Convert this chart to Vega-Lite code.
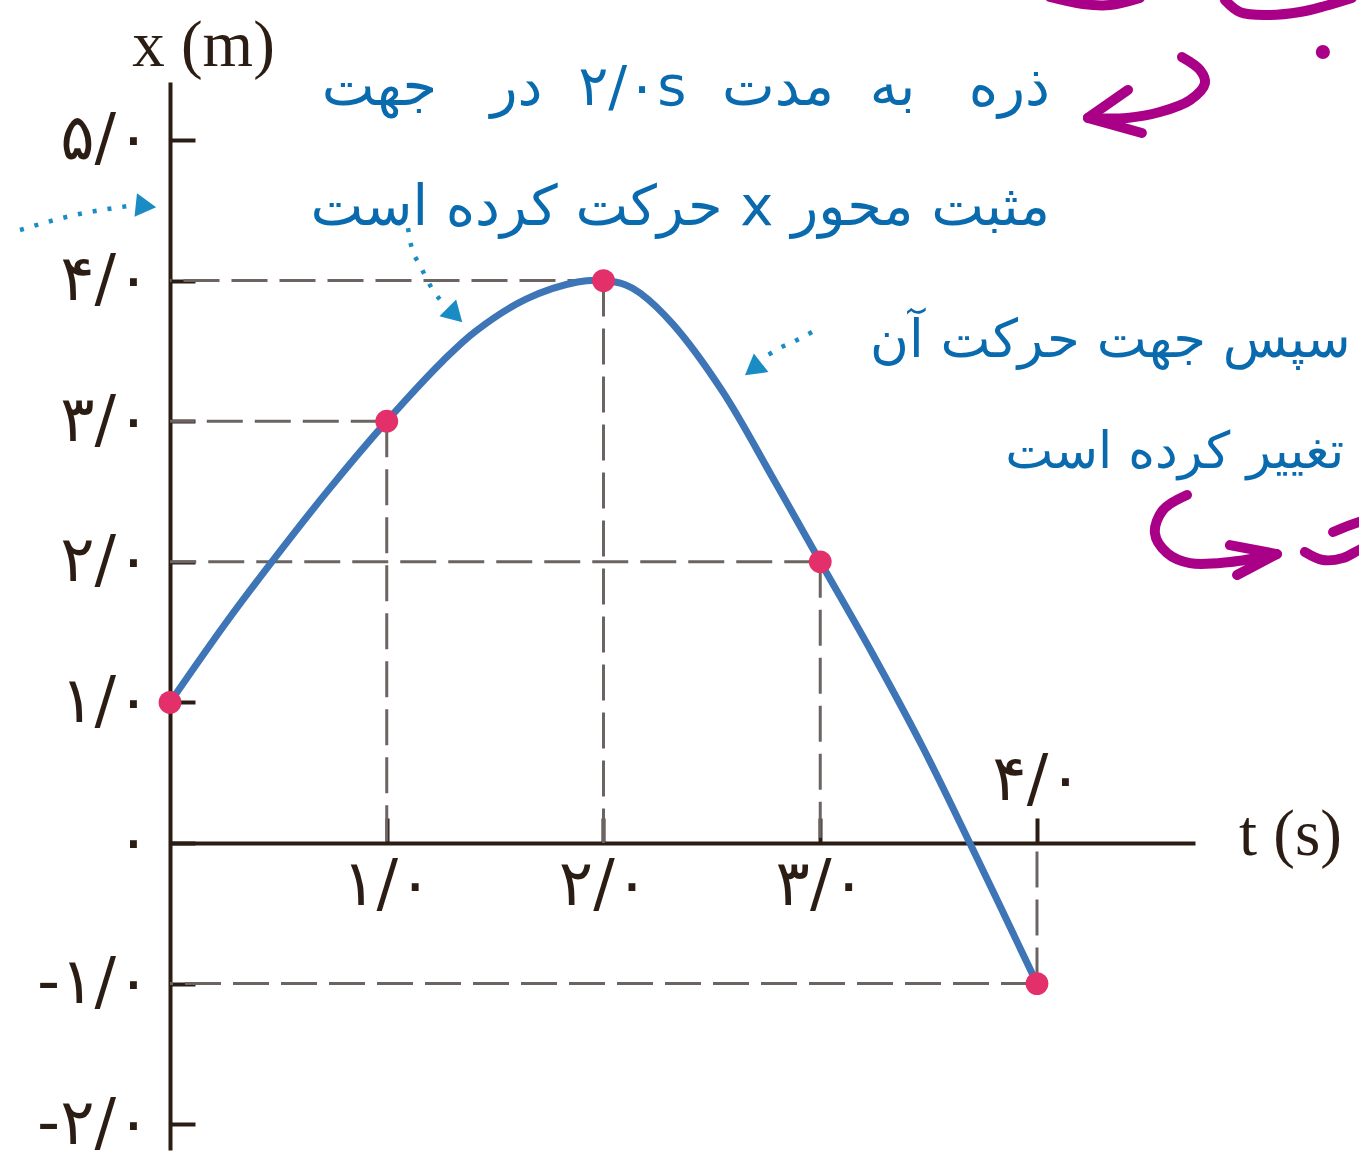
{
  "$schema": "https://vega.github.io/schema/vega-lite/v6.json",
  "autosize": "none",
  "width": 1025,
  "height": 1068,
  "padding": {"left": 170, "top": 82, "right": 164, "bottom": 11},
  "background": "white",
  "config": {"view": {"stroke": null}, "axis": {"grid": false, "zindex": 1}},
  "datasets": {
    "points": [
      {"t": 0, "x": 1}, {"t": 1, "x": 3}, {"t": 2, "x": 4}, {"t": 3, "x": 2}, {"t": 4, "x": -1}
    ],
    "curve": [
      {"t": 0, "x": 1}, {"t": 0.26, "x": 1.57}, {"t": 0.46, "x": 1.98}, {"t": 0.72, "x": 2.49},
      {"t": 1, "x": 3}, {"t": 1.26, "x": 3.43}, {"t": 1.41, "x": 3.64}, {"t": 1.645, "x": 3.87},
      {"t": 1.88, "x": 3.99}, {"t": 2, "x": 4}, {"t": 2.1, "x": 3.97}, {"t": 2.17, "x": 3.91}, {"t": 2.32, "x": 3.69},
      {"t": 2.55, "x": 3.21}, {"t": 2.78, "x": 2.6}, {"t": 3, "x": 2}, {"t": 3.24, "x": 1.35}, {"t": 3.47, "x": 0.69},
      {"t": 3.69, "x": 0}, {"t": 4, "x": -1}
    ],
    "notesR": [
      {"t": 4.06, "x": 5.249, "label": "\u202bذره\u00a0\u00a0 به\u00a0 مدت\u00a0 ۲/۰s\u00a0 در\u00a0\u00a0 جهت\u202c"},
      {"t": 4.06, "x": 4.395, "label": "\u202bمثبت محور x حرکت کرده است\u202c"}
    ],
    "notesL1": [
      {"t": 3.23, "x": 3.457, "label": "\u202bسپس جهت حرکت آن\u202c"}
    ],
    "notesL2": [
      {"t": 3.853, "x": 2.667, "label": "\u202bتغییر کرده است\u202c"}
    ],
    "dotted": [
      {"id": "a", "i": 0, "t": -0.692, "x": 4.36}, {"id": "a", "i": 1, "t": -0.438, "x": 4.467}, {"id": "a", "i": 2, "t": -0.17, "x": 4.535},
      {"id": "b", "i": 0, "t": 1.098, "x": 4.374}, {"id": "b", "i": 1, "t": 1.112, "x": 4.253}, {"id": "b", "i": 2, "t": 1.153, "x": 4.111},
      {"id": "b", "i": 3, "t": 1.213, "x": 3.933}, {"id": "b", "i": 4, "t": 1.269, "x": 3.826},
      {"id": "c", "i": 0, "t": 2.962, "x": 3.634}, {"id": "c", "i": 1, "t": 2.883, "x": 3.57}, {"id": "c", "i": 2, "t": 2.814, "x": 3.521},
      {"id": "c", "i": 3, "t": 2.745, "x": 3.457}
    ],
    "heads": [
      {"id": "a", "t": -0.111, "x": 4.53}, {"id": "b", "t": 1.315, "x": 3.755}, {"id": "c", "t": 2.69, "x": 3.371}
    ],
    "pen": [
      {"id": "m1", "i": 0, "t": 4.669, "x": 5.59}, {"id": "m1", "i": 1, "t": 4.752, "x": 5.498}, {"id": "m1", "i": 2, "t": 4.775, "x": 5.405},
      {"id": "m1", "i": 3, "t": 4.706, "x": 5.284}, {"id": "m1", "i": 4, "t": 4.567, "x": 5.199}, {"id": "m1", "i": 5, "t": 4.415, "x": 5.157},
      {"id": "m1", "i": 6, "t": 4.235, "x": 5.157},
      {"id": "m2", "i": 0, "t": 4.06, "x": 6.017}, {"id": "m2", "i": 1, "t": 4.212, "x": 5.967}, {"id": "m2", "i": 2, "t": 4.337, "x": 5.96},
      {"id": "m2", "i": 3, "t": 4.475, "x": 6.01},
      {"id": "m3", "i": 0, "t": 4.867, "x": 5.996}, {"id": "m3", "i": 1, "t": 4.937, "x": 5.91}, {"id": "m3", "i": 2, "t": 5.061, "x": 5.889},
      {"id": "m3", "i": 3, "t": 5.213, "x": 5.91}, {"id": "m3", "i": 4, "t": 5.329, "x": 5.953}, {"id": "m3", "i": 5, "t": 5.453, "x": 6.01},
      {"id": "m4", "i": 0, "t": 4.692, "x": 2.475}, {"id": "m4", "i": 1, "t": 4.581, "x": 2.368}, {"id": "m4", "i": 2, "t": 4.544, "x": 2.205},
      {"id": "m4", "i": 3, "t": 4.6, "x": 2.063}, {"id": "m4", "i": 4, "t": 4.706, "x": 1.991}, {"id": "m4", "i": 5, "t": 4.89, "x": 1.999},
      {"id": "m4", "i": 6, "t": 5.107, "x": 2.055},
      {"id": "m6", "i": 0, "t": 5.236, "x": 2.07}, {"id": "m6", "i": 1, "t": 5.319, "x": 2.013}, {"id": "m6", "i": 2, "t": 5.412, "x": 2.027},
      {"id": "m6", "i": 3, "t": 5.486, "x": 2.084}, {"id": "m6", "i": 4, "t": 5.55, "x": 2.12},
      {"id": "m7", "i": 0, "t": 5.366, "x": 2.212}, {"id": "m7", "i": 1, "t": 5.486, "x": 2.283}, {"id": "m7", "i": 2, "t": 5.55, "x": 2.3}
    ],
    "penBarbs": [
      {"id": "b1", "i": 0, "t": 4.42, "x": 5.356}, {"id": "b1", "i": 1, "t": 4.235, "x": 5.157}, {"id": "b1", "i": 2, "t": 4.484, "x": 5.05},
      {"id": "b2", "i": 0, "t": 4.89, "x": 2.119}, {"id": "b2", "i": 1, "t": 5.107, "x": 2.055}, {"id": "b2", "i": 2, "t": 4.923, "x": 1.906}
    ],
    "penDot": [{"t": 5.319, "x": 5.626}]
  },
  "encoding": {
    "x": {
      "field": "t", "type": "quantitative",
      "scale": {"domain": [0, 4.729], "nice": false, "zero": false},
      "axis": {
        "title": "t (s)", "titleFont": "Liberation Serif", "titleFontSize": 65, "titleFontWeight": "normal",
        "titleColor": "#2b1d14", "titleAlign": "center", "titleBaseline": "middle", "titleAngle": 0,
        "titleX": 1120, "titleY": -8,
        "offset": {"expr": "scale('y', 0) - height"},
        "values": [1, 2, 3, 4],
        "labelExpr": "['۰','۱','۲','۳','۴','۵'][datum.value] + '/۰'",
        "labelFont": "DejaVu Sans", "labelFontSize": 64, "labelColor": "#2b1d14",
        "labelBaseline": {"condition": {"test": "datum.value == 4", "value": "alphabetic"}, "value": "top"},
        "labelPadding": {"condition": {"test": "datum.value == 4", "value": -18}, "value": 36},
        "labelOverlap": false, "labelFlush": false,
        "tickSize": -25, "tickWidth": 4, "tickColor": "#2b1d14",
        "domainColor": "#2b1d14", "domainWidth": 4
      }
    },
    "y": {
      "field": "x", "type": "quantitative",
      "scale": {"domain": [-2.1835, 5.4125], "nice": false, "zero": false},
      "axis": {
        "title": "x (m)", "titleFont": "Liberation Serif", "titleFontSize": 65, "titleFontWeight": "normal",
        "titleColor": "#2b1d14", "titleAlign": "center", "titleBaseline": "middle", "titleAngle": 0,
        "titleX": 33, "titleY": -37,
        "values": [-2, -1, 0, 1, 2, 3, 4, 5],
        "labelExpr": "datum.value == 0 ? '۰' : (datum.value < 0 ? '-' : '') + ['۰','۱','۲','۳','۴','۵'][abs(datum.value)] + '/۰'",
        "labelFont": "DejaVu Sans", "labelFontSize": 64, "labelColor": "#2b1d14",
        "labelPadding": 45, "labelOverlap": false, "labelFlush": false,
        "tickSize": -25, "tickWidth": 4, "tickColor": "#2b1d14",
        "domainColor": "#2b1d14", "domainWidth": 4
      }
    }
  },
  "layer": [
    {
      "data": {"name": "points"},
      "transform": [{"filter": "datum.t > 0"}],
      "mark": {"type": "rule", "color": "#6b6462", "strokeWidth": 3, "strokeDash": [36, 12]},
      "encoding": {"x2": {"datum": 0}}
    },
    {
      "data": {"name": "points"},
      "transform": [{"filter": "datum.t > 0"}],
      "mark": {"type": "rule", "color": "#6b6462", "strokeWidth": 3, "strokeDash": [36, 12]},
      "encoding": {"y2": {"datum": 0}}
    },
    {
      "data": {"name": "curve"},
      "mark": {"type": "line", "color": "#3e75b7", "strokeWidth": 7, "interpolate": "catmull-rom"},
      "encoding": {}
    },
    {
      "data": {"name": "points"},
      "mark": {"type": "point", "shape": "circle", "filled": true, "size": 520, "color": "#e3306a", "opacity": 1},
      "encoding": {}
    },
    {
      "data": {"name": "notesR"},
      "mark": {"type": "text", "align": "right", "baseline": "alphabetic", "font": "DejaVu Sans", "fontSize": 56, "color": "#0a6aae"},
      "encoding": {"text": {"field": "label"}}
    },
    {
      "data": {"name": "notesL1"},
      "mark": {"type": "text", "align": "left", "baseline": "alphabetic", "font": "DejaVu Sans", "fontSize": 53, "color": "#0a6aae"},
      "encoding": {"text": {"field": "label"}}
    },
    {
      "data": {"name": "notesL2"},
      "mark": {"type": "text", "align": "left", "baseline": "alphabetic", "font": "DejaVu Sans", "fontSize": 51, "color": "#0a6aae"},
      "encoding": {"text": {"field": "label"}}
    },
    {
      "data": {"name": "dotted"},
      "mark": {"type": "line", "color": "#1a8cc4", "strokeWidth": 4.5, "strokeDash": [4, 11], "interpolate": "monotone"},
      "encoding": {"detail": {"field": "id"}, "order": {"field": "i", "type": "quantitative"}}
    },
    {
      "data": {"name": "heads"},
      "transform": [{"filter": "datum.id == 'a'"}],
      "mark": {"type": "point", "shape": "triangle-up", "filled": true, "size": 560, "color": "#1a8cc4", "opacity": 1, "angle": 96},
      "encoding": {}
    },
    {
      "data": {"name": "heads"},
      "transform": [{"filter": "datum.id == 'b'"}],
      "mark": {"type": "point", "shape": "triangle-up", "filled": true, "size": 560, "color": "#1a8cc4", "opacity": 1, "angle": 135},
      "encoding": {}
    },
    {
      "data": {"name": "heads"},
      "transform": [{"filter": "datum.id == 'c'"}],
      "mark": {"type": "point", "shape": "triangle-up", "filled": true, "size": 560, "color": "#1a8cc4", "opacity": 1, "angle": 232},
      "encoding": {}
    },
    {
      "data": {"name": "pen"},
      "mark": {"type": "line", "color": "#aa0088", "strokeWidth": 10, "strokeCap": "round", "strokeJoin": "round", "interpolate": "catmull-rom"},
      "encoding": {"detail": {"field": "id"}, "order": {"field": "i", "type": "quantitative"}}
    },
    {
      "data": {"name": "penBarbs"},
      "mark": {"type": "line", "color": "#aa0088", "strokeWidth": 10, "strokeCap": "round", "strokeJoin": "round"},
      "encoding": {"detail": {"field": "id"}, "order": {"field": "i", "type": "quantitative"}}
    },
    {
      "data": {"name": "penDot"},
      "mark": {"type": "point", "shape": "circle", "filled": true, "size": 200, "color": "#aa0088", "opacity": 1},
      "encoding": {}
    }
  ]
}
